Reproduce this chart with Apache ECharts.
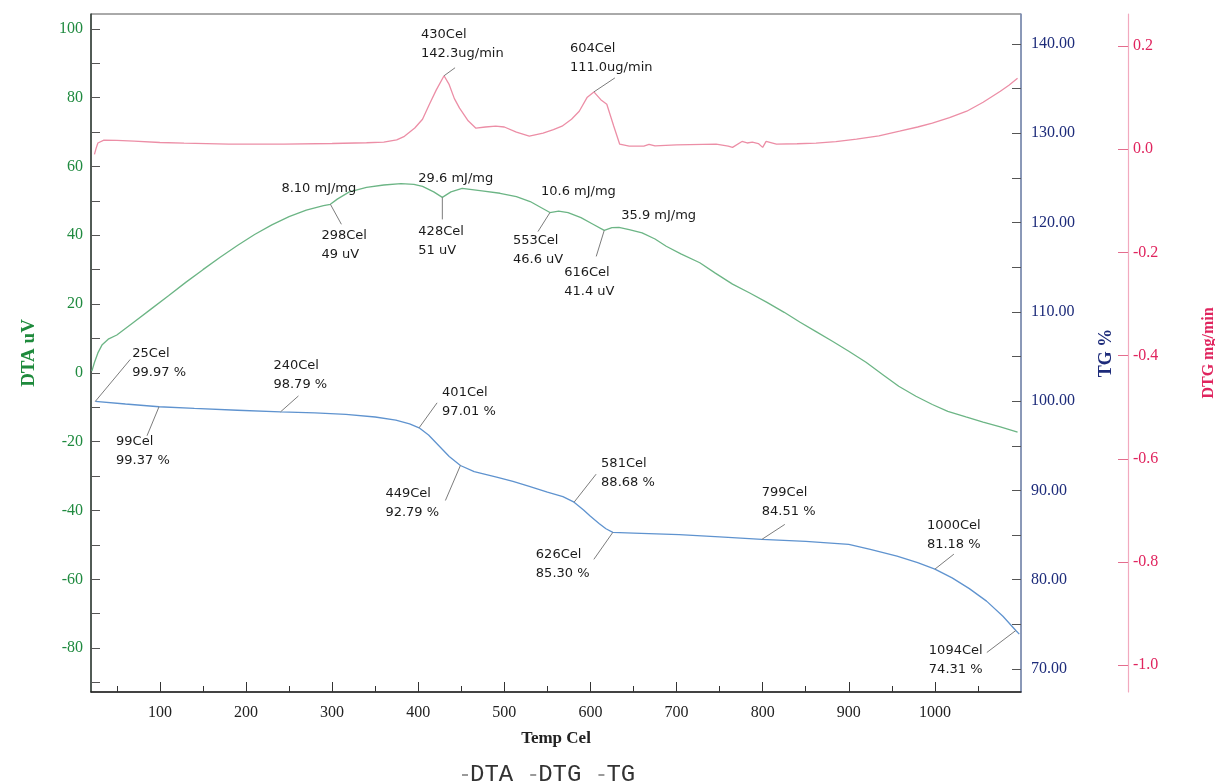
<!DOCTYPE html>
<html>
<head>
<meta charset="utf-8">
<script src="https://cdn.jsdelivr.net/npm/echarts@6/dist/echarts.min.js"></script>
<style>
  html, body { margin: 0; padding: 0; background: #ffffff; }
  #chart { width: 1215px; height: 783px; }
</style>
</head>
<body>
<div id="chart"></div>
<script>
// ---- DTA trace (Temp Cel -> uV) ----
const dtaTemp = [21, 24, 28, 33, 40, 50, 70, 90, 110, 130, 150, 170, 190, 210, 230, 250, 270, 290, 298, 306, 320, 340, 360, 380, 395, 405, 418, 428, 438, 451, 474, 495, 514, 530, 543, 553, 563, 574, 589, 603, 616, 625, 633, 645, 660, 675, 688, 705, 727, 745, 765, 785, 805, 825, 843, 862, 881, 900, 920, 940, 958, 978, 997, 1015, 1036, 1056, 1076, 1096];
const dtaSignal = [0.5, 3.0, 5.8, 8.2, 9.8, 11.0, 14.8, 18.6, 22.4, 26.3, 30.0, 33.6, 37.0, 40.2, 43.0, 45.4, 47.3, 48.6, 49.0, 50.5, 52.6, 53.9, 54.6, 55.0, 54.8, 54.2, 52.6, 51.0, 52.6, 53.6, 52.9, 52.2, 51.2, 49.8, 48.0, 46.6, 47.0, 46.6, 45.1, 43.2, 41.4, 42.2, 42.3, 41.6, 40.7, 38.9, 36.8, 34.6, 32.0, 29.0, 25.8, 23.2, 20.5, 17.6, 14.8, 12.0, 9.2, 6.3, 3.1, -0.6, -3.9, -6.8, -9.2, -11.2, -12.8, -14.3, -15.7, -17.2];

// ---- TG trace (Temp Cel -> %) ----
const tgTemp = [25, 60, 99, 140, 190, 240, 280, 316, 350, 374, 390, 401, 412, 424, 436, 449, 465, 491, 510, 529, 550, 568, 581, 592, 600, 610, 618, 626, 650, 703, 750, 799, 850, 900, 925, 956, 980, 1000, 1020, 1040, 1060, 1079, 1094, 1098];
const tgMass = [99.97, 99.68, 99.37, 99.18, 98.98, 98.79, 98.68, 98.52, 98.22, 97.87, 97.45, 97.01, 96.2, 95.0, 93.8, 92.79, 92.1, 91.5, 91.0, 90.45, 89.8, 89.3, 88.68, 87.8, 87.1, 86.3, 85.7, 85.30, 85.22, 85.05, 84.8, 84.51, 84.3, 83.95, 83.4, 82.64, 81.9, 81.18, 80.2, 79.0, 77.6, 75.9, 74.31, 73.9];

// ---- DTG trace (Temp Cel -> mg/min) ----
const dtgTemp = [24, 26, 28, 35, 50, 70, 100, 128, 180, 244, 300, 340, 360, 375, 384, 396, 405, 413, 421, 430, 436, 442, 448, 458, 467, 478, 490, 500, 514, 529, 545, 557, 567, 578, 587, 596, 604, 612, 619, 627, 634, 645, 662, 668, 675, 700, 746, 760, 765, 776, 782, 788, 795, 800, 804, 816, 840, 862, 885, 909, 935, 959, 980, 997, 1017, 1037, 1056, 1076, 1086, 1096];
const dtgRate = [-0.010, 0.002, 0.012, 0.0175, 0.0170, 0.0155, 0.013, 0.0116, 0.010, 0.0097, 0.011, 0.0125, 0.0136, 0.018, 0.025, 0.041, 0.058, 0.087, 0.115, 0.1423, 0.125, 0.098, 0.0795, 0.055, 0.0407, 0.043, 0.0446, 0.043, 0.033, 0.0252, 0.031, 0.038, 0.0446, 0.058, 0.0736, 0.100, 0.111, 0.096, 0.0872, 0.045, 0.0097, 0.006, 0.0058, 0.0095, 0.0065, 0.0085, 0.0097, 0.006, 0.0035, 0.0150, 0.012, 0.0135, 0.011, 0.0035, 0.0150, 0.0097, 0.0105, 0.0116, 0.0145, 0.0194, 0.026, 0.0349, 0.043, 0.0504, 0.061, 0.0736, 0.091, 0.1124, 0.124, 0.1376];

// ---- evaluated points ----
const dtgPeakTemp = [430, 604];
const dtgPeakRate = [0.1423, 0.111];          // mg/min
const dtaPeakTemp = [298, 428, 553, 616];
const dtaPeakSignal = [49, 51, 46.6, 41.4];    // uV
const dtaEnthalpy = [8.10, 29.6, 10.6, 35.9];  // mJ/mg
const tgStepTemp = [25, 99, 240, 401, 449, 581, 626, 799, 1000, 1094];
const tgStepMass = [99.97, 99.37, 98.79, 97.01, 92.79, 88.68, 85.30, 84.51, 81.18, 74.31];

// ---- axis ticks and labels ----
const tempLabels = [100, 200, 300, 400, 500, 600, 700, 800, 900, 1000];
const tempMinorTicks = [50, 150, 250, 350, 450, 550, 650, 750, 850, 950, 1050];
const dtaTicks = [-90, -80, -70, -60, -50, -40, -30, -20, -10, 0, 10, 20, 30, 40, 50, 60, 70, 80, 90, 100];
const dtaLabels = [-80, -60, -40, -20, 0, 20, 40, 60, 80, 100];
const tgTicks = [70, 75, 80, 85, 90, 95, 100, 105, 110, 115, 120, 125, 130, 135, 140];
const tgLabels = [70, 80, 90, 100, 110, 120, 130, 140];
const dtgLabels = [-1.0, -0.8, -0.6, -0.4, -0.2, 0.0, 0.2];

// ---- label placement (pixel offsets from the marked point) ----
// lead: end of leader line; text: left edge / centre of first line
const dtgNoteLayout = [
  { lead: [11, -8], text: [-23, -41] },
  { lead: [21, -14], text: [-24, -43] }
];
const dtaNoteLayout = [
  { lead: [11, 20], text: [-9, 31], heat: [-49, -16] },
  { lead: [0, 22], text: [-24, 34], heat: [-24, -19] },
  { lead: [-12, 19], text: [-37, 28], heat: [-9, -21] },
  { lead: [-8, 26], text: [-40, 42], heat: [17, -15] }
];
const tgNoteLayout = [
  { lead: [35, -42], text: [37, -48] },
  { lead: [-12, 29], text: [-43, 35] },
  { lead: [18, -16], text: [-7, -46] },
  { lead: [18, -25], text: [23, -35] },
  { lead: [-15, 35], text: [-75, 28] },
  { lead: [22, -28], text: [27, -39] },
  { lead: [-19, 27], text: [-77, 22] },
  { lead: [23, -15], text: [0, -47] },
  { lead: [19, -15], text: [-8, -44] },
  { lead: [-29, 22], text: [-87, 20] }
];

const NOTE_FONT = '13px "DejaVu Sans", sans-serif';
const NOTE_LINE = 19;
const SERIF = '"Liberation Serif", "DejaVu Serif", serif';

function zip(xs, ys) { return xs.map((x, i) => [x, ys[i]]); }

function noteSeries(yAxisIndex, temps, values, layout, textFor, heatFor) {
  return {
    type: 'custom',
    xAxisIndex: 0,
    yAxisIndex: yAxisIndex,
    silent: true,
    clip: false,
    z: 4,
    data: temps.map((t, i) => [t, values[i], i]),
    renderItem(params, api) {
      const i = api.value(2);
      const p = api.coord([api.value(0), api.value(1)]);
      const L = layout[i];
      const children = [
        {
          type: 'line',
          shape: { x1: p[0], y1: p[1], x2: p[0] + L.lead[0], y2: p[1] + L.lead[1] },
          style: { stroke: '#7c7c7c', lineWidth: 1 }
        },
        {
          type: 'text',
          style: {
            x: p[0] + L.text[0],
            y: p[1] + L.text[1] - NOTE_LINE / 2,
            text: textFor(i),
            font: NOTE_FONT,
            lineHeight: NOTE_LINE,
            fill: '#1b1b1b',
            align: 'left',
            verticalAlign: 'top'
          }
        }
      ];
      if (heatFor && L.heat) {
        children.push({
          type: 'text',
          style: {
            x: p[0] + L.heat[0],
            y: p[1] + L.heat[1],
            text: heatFor(i),
            font: NOTE_FONT,
            fill: '#1b1b1b',
            align: 'left',
            verticalAlign: 'middle'
          }
        });
      }
      return { type: 'group', children: children };
    }
  };
}

const chart = echarts.init(document.getElementById('chart'), null, { renderer: 'canvas' });

const option = {
  animation: false,
  backgroundColor: '#ffffff',
  grid: {
    left: 91, right: 194, top: 14, bottom: 91,
    show: true, borderColor: '#555555', borderWidth: 1,
    containLabel: false,
    outerBoundsMode: 'none'
  },
  legend: {
    data: [
      { name: 'DTA', icon: 'rect', itemStyle: { color: '#9a9a9a' } },
      { name: 'DTG', icon: 'rect', itemStyle: { color: '#9a9a9a' } },
      { name: 'TG', icon: 'rect', itemStyle: { color: '#9a9a9a' } }
    ],
    left: 462, top: 763,
    itemWidth: 6, itemHeight: 2, itemGap: 17,
    padding: 0,
    selectedMode: false,
    textStyle: { fontFamily: '"Liberation Mono", monospace', fontSize: 24, color: '#333333', padding: [0, 0, 0, -3] }
  },
  xAxis: [
    {
      type: 'value', min: 20, max: 1100, position: 'bottom',
      axisLine: { show: true, onZero: false, lineStyle: { color: '#222222', width: 1.5 } },
      axisTick: { show: true, inside: true, length: 10, customValues: tempLabels, lineStyle: { color: '#333333' } },
      axisLabel: { customValues: tempLabels, formatter: v => String(v), color: '#222222', fontFamily: SERIF, fontSize: 16, margin: 13 },
      splitLine: { show: false },
      name: 'Temp Cel', nameLocation: 'middle', nameGap: 38,
      nameTextStyle: { color: '#222222', fontFamily: SERIF, fontSize: 17, fontWeight: 'bold' }
    },
    {
      type: 'value', min: 20, max: 1100, position: 'bottom',
      axisLine: { show: false, onZero: false },
      axisTick: { show: true, inside: true, length: 6, customValues: tempMinorTicks, lineStyle: { color: '#333333' } },
      axisLabel: { show: false },
      splitLine: { show: false }
    }
  ],
  yAxis: [
    {
      type: 'value', min: -92.75, max: 104.3, position: 'left',
      axisLine: { show: true, onZero: false, lineStyle: { color: '#34423a', width: 1.5 } },
      axisTick: { show: true, inside: true, length: 9, customValues: dtaTicks, lineStyle: { color: '#555555' } },
      axisLabel: { customValues: dtaLabels, color: '#1f8a3f', fontFamily: SERIF, fontSize: 16, margin: 8 },
      splitLine: { show: false },
      name: 'DTA uV', nameLocation: 'middle', nameGap: 52, nameRotate: 90,
      nameTextStyle: { color: '#1e8a3c', fontFamily: SERIF, fontSize: 19, fontWeight: 'bold' }
    },
    {
      type: 'value', min: 67.42, max: 143.36, position: 'right',
      axisLine: { show: true, onZero: false, lineStyle: { color: '#8193bd', width: 1.5 } },
      axisTick: { show: true, inside: true, length: 9, customValues: tgTicks, lineStyle: { color: '#555555' } },
      axisLabel: { customValues: tgLabels, formatter: v => v.toFixed(2), color: '#1d2b7a', fontFamily: SERIF, fontSize: 16, margin: 10 },
      splitLine: { show: false },
      name: 'TG %', nameLocation: 'middle', nameGap: 76, nameRotate: 90,
      nameTextStyle: { color: '#1d2b7a', fontFamily: SERIF, fontSize: 18, fontWeight: 'bold' }
    },
    {
      type: 'value', min: -1.052, max: 0.262, position: 'right', offset: 107,
      axisLine: { show: true, onZero: false, lineStyle: { color: '#f2a9be', width: 1.2 } },
      axisTick: { show: true, inside: true, length: 10, customValues: dtgLabels, lineStyle: { color: '#e46d8e' } },
      axisLabel: { customValues: dtgLabels, formatter: v => v.toFixed(1), color: '#e0245e', fontFamily: SERIF, fontSize: 16, margin: 5 },
      splitLine: { show: false },
      name: 'DTG mg/min', nameLocation: 'middle', nameGap: 73, nameRotate: 90,
      nameTextStyle: { color: '#e0245e', fontFamily: SERIF, fontSize: 16, fontWeight: 'bold' }
    }
  ],
  series: [
    {
      name: 'DTA', type: 'line', xAxisIndex: 0, yAxisIndex: 0,
      data: zip(dtaTemp, dtaSignal), showSymbol: false, z: 3,
      lineStyle: { color: '#6cb585', width: 1.3 }, itemStyle: { color: '#6cb585' }
    },
    {
      name: 'DTG', type: 'line', xAxisIndex: 0, yAxisIndex: 2,
      data: zip(dtgTemp, dtgRate), showSymbol: false, z: 3,
      lineStyle: { color: '#ec8ea6', width: 1.3 }, itemStyle: { color: '#ec8ea6' }
    },
    {
      name: 'TG', type: 'line', xAxisIndex: 0, yAxisIndex: 1,
      data: zip(tgTemp, tgMass), showSymbol: false, z: 3,
      lineStyle: { color: '#5f93cf', width: 1.3 }, itemStyle: { color: '#5f93cf' }
    },
    noteSeries(2, dtgPeakTemp, dtgPeakRate, dtgNoteLayout,
      i => dtgPeakTemp[i] + 'Cel\n' + (dtgPeakRate[i] * 1000).toFixed(1) + 'ug/min'),
    noteSeries(0, dtaPeakTemp, dtaPeakSignal, dtaNoteLayout,
      i => dtaPeakTemp[i] + 'Cel\n' + dtaPeakSignal[i] + ' uV',
      i => dtaEnthalpy[i].toFixed(dtaEnthalpy[i] < 10 ? 2 : 1) + ' mJ/mg'),
    noteSeries(1, tgStepTemp, tgStepMass, tgNoteLayout,
      i => tgStepTemp[i] + 'Cel\n' + tgStepMass[i].toFixed(2) + ' %')
  ]
};

chart.setOption(option);
</script>
</body>
</html>
